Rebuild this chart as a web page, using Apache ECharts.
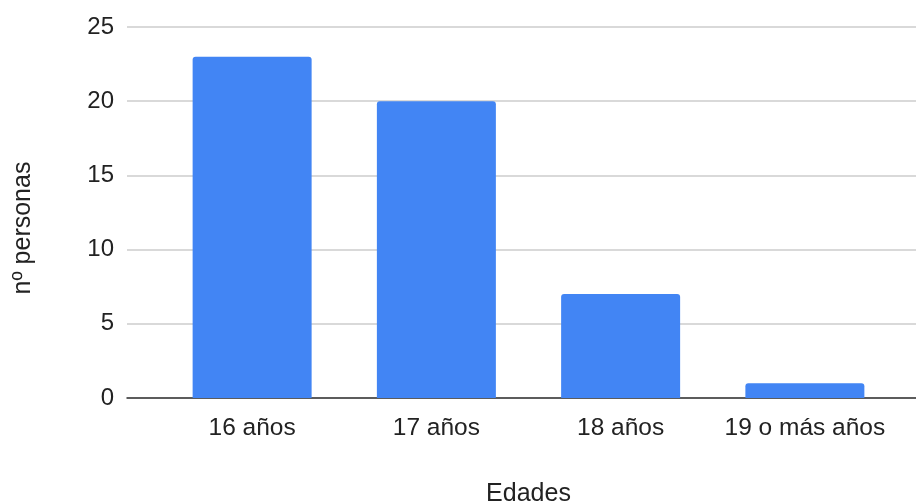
<!DOCTYPE html>
<html>
<head>
<meta charset="utf-8">
<script src="https://cdn.jsdelivr.net/npm/echarts@6/dist/echarts.min.js"></script>
<style>
  html, body { margin: 0; padding: 0; background: #fff; }
  #chart { width: 916px; height: 504px; }
</style>
</head>
<body>
<div id="chart"></div>
<script>
// Edades de los participantes
const categories = ['16 años', '17 años', '18 años', '19 o más años'];
const personas = [23, 20, 7, 1];
const yTicks = [0, 5, 10, 15, 20, 25];

const FONT = '"Liberation Sans", Arial, sans-serif';
const TEXT = '#222222';
const yMin = yTicks[0];
const yMax = yTicks[yTicks.length - 1];
const yStep = yTicks[1] - yTicks[0];

const chart = echarts.init(document.getElementById('chart'), null, { renderer: 'canvas' });

chart.setOption({
  animation: false,
  backgroundColor: '#ffffff',
  textStyle: { fontFamily: FONT },
  grid: [
    // gridlines and value axis span the full width
    { left: 127, right: 0, top: 27, bottom: 106, containLabel: false, outerBoundsMode: 'none' },
    // category band for the bars
    { left: 160, right: 19, top: 27, bottom: 106, containLabel: false, outerBoundsMode: 'none' }
  ],
  xAxis: [
    {
      gridIndex: 0, type: 'category', data: categories,
      axisLine: { show: true, lineStyle: { color: '#333333', width: 1.5 } },
      axisTick: { show: false }, axisLabel: { show: false }, splitLine: { show: false }
    },
    {
      gridIndex: 1, type: 'category', data: categories,
      axisLine: { show: false }, axisTick: { show: false },
      axisLabel: { color: TEXT, fontSize: 24.5, fontFamily: FONT, margin: 18, interval: 0, hideOverlap: false },
      name: 'Edades', nameLocation: 'middle', nameGap: 84,
      nameTextStyle: { color: TEXT, fontSize: 25, fontFamily: FONT }
    }
  ],
  yAxis: [
    {
      gridIndex: 0, type: 'value', min: yMin, max: yMax, interval: yStep,
      axisLine: { show: false }, axisTick: { show: false },
      axisLabel: { color: TEXT, fontSize: 24, fontFamily: FONT, margin: 13 },
      splitLine: { lineStyle: { color: '#cccccc', width: 1.5 } }
    },
    {
      gridIndex: 1, type: 'value', min: yMin, max: yMax, interval: yStep,
      show: false, splitLine: { show: false }
    }
  ],
  graphic: [
    {
      type: 'text',
      x: 23, y: 228,
      rotation: Math.PI / 2,
      style: {
        text: 'nº personas', fill: TEXT, font: '25px ' + FONT,
        textAlign: 'center', textVerticalAlign: 'middle'
      }
    }
  ],
  series: [
    {
      type: 'bar', xAxisIndex: 1, yAxisIndex: 1,
      data: personas, barWidth: 119,
      itemStyle: { color: '#4285F4', borderRadius: [3, 3, 0, 0] }
    }
  ]
});
</script>
</body>
</html>
